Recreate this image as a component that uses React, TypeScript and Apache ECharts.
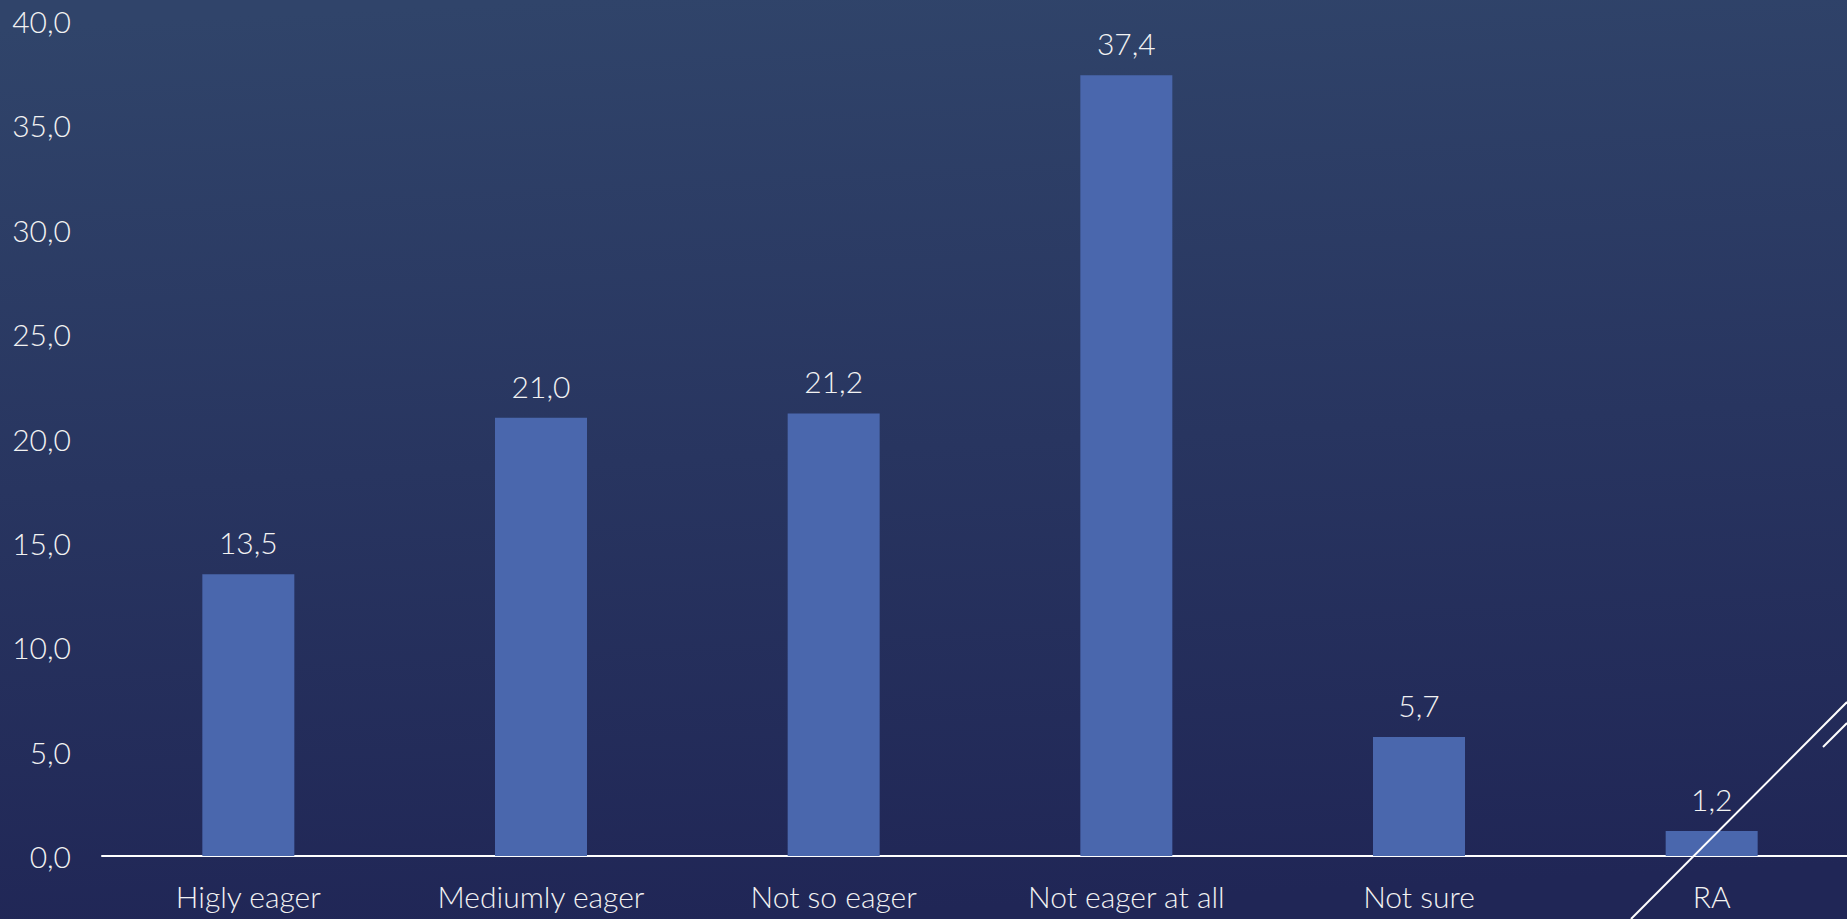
import React, { useEffect, useRef } from "react";
import * as echarts from "echarts";

const categories = ["Higly eager", "Mediumly eager", "Not so eager", "Not eager at all", "Not sure", "RA"];
const values = [13.5, 21.0, 21.2, 37.4, 5.7, 1.2];
const yMin = 0;
const yMax = 40;
const yInterval = 5;

const fmt = (v: number) => v.toFixed(1).replace(".", ",");

export default function App() {
  const ref = useRef<HTMLDivElement>(null);
  useEffect(() => {
    document.body.style.margin = "0";
    const chart = echarts.init(ref.current!, null, { renderer: "svg" });
    const font = "Lato";
    chart.setOption({
      animation: false,
      backgroundColor: {
        type: "linear",
        x: 0.3,
        y: 0,
        x2: 0.4,
        y2: 1,
        colorStops: [
          { offset: 0, color: "#30446a" },
          { offset: 1, color: "#202656" },
        ],
      },
      grid: { left: 102, top: 21, width: 1756, height: 835, containLabel: false },
      xAxis: {
        type: "category",
        data: categories,
        axisLine: { show: true, lineStyle: { color: "#ffffff", width: 2 } },
        axisTick: { show: false },
        axisLabel: {
          color: "#f2f2f2",
          fontFamily: font,
          fontWeight: 300,
          fontSize: 30,
          margin: 25,
        },
      },
      yAxis: {
        type: "value",
        min: yMin,
        max: yMax,
        interval: yInterval,
        splitLine: { show: false },
        axisLine: { show: false },
        axisTick: { show: false },
        axisLabel: {
          color: "#f2f2f2",
          fontFamily: font,
          fontWeight: 300,
          fontSize: 30,
          margin: 31,
          formatter: (v: number) => fmt(v),
        },
      },
      series: [
        {
          type: "bar",
          data: values,
          barWidth: 92,
          itemStyle: { color: "#4a67ad" },
          label: {
            show: true,
            position: "top",
            distance: 17,
            color: "#f2f2f2",
            fontFamily: font,
            fontWeight: 300,
            fontSize: 30,
            formatter: (p: any) => fmt(p.value),
          },
        },
      ],
      graphic: [
        {
          type: "line",
          shape: { x1: 1631, y1: 919, x2: 1847, y2: 702 },
          style: { stroke: "#ffffff", lineWidth: 2 },
          z: 100,
        },
        {
          type: "line",
          shape: { x1: 1823, y1: 747, x2: 1847, y2: 723 },
          style: { stroke: "#ffffff", lineWidth: 2 },
          z: 100,
        },
      ],
    });
    return () => chart.dispose();
  }, []);
  return (
    <div style={{ width: 1847, height: 919, overflow: "hidden", position: "relative" }}>
      <div ref={ref} style={{ width: 1870, height: 919 }} />
    </div>
  );
}
